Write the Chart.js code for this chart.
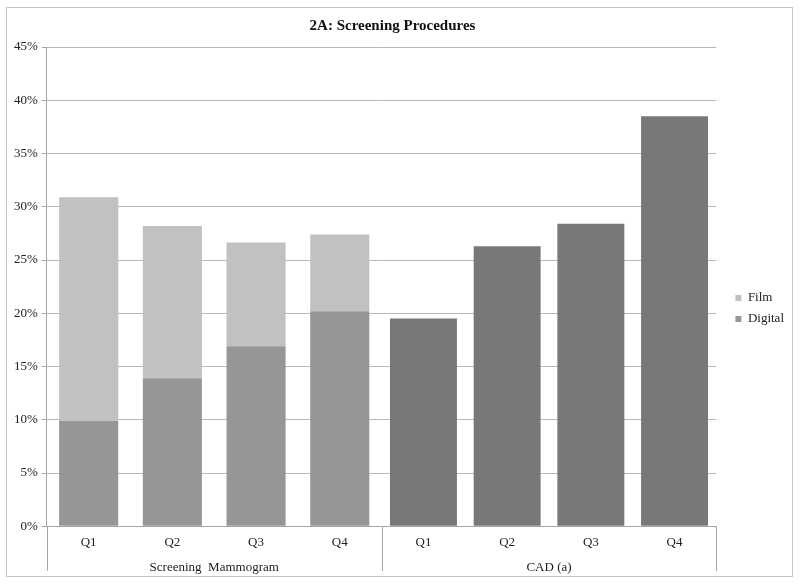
<!DOCTYPE html>
<html>
<head>
<meta charset="utf-8">
<script src="https://cdn.jsdelivr.net/npm/chart.js@4/dist/chart.umd.min.js"></script>
<style>
html,body{margin:0;padding:0;background:#fff;}
#wrap{width:800px;height:585px;position:relative;}
</style>
</head>
<body>
<div id="wrap"><canvas id="c" width="800" height="585"></canvas></div>
<script>
const categories = ['Q1','Q2','Q3','Q4','Q1','Q2','Q3','Q4'];
const groups = ['Screening  Mammogram','CAD (a)'];
const digitalMammo = [9.9, 13.9, 16.9, 20.2, null, null, null, null];
const filmMammo = [21.0, 14.3, 9.75, 7.2, null, null, null, null];
const digitalCAD = [null, null, null, null, 19.5, 26.3, 28.4, 38.5];
const yTicks = [0,5,10,15,20,25,30,35,40,45];

const serif = '"Liberation Serif", "Times New Roman", serif';

const decor = {
  id: 'decor',
  afterLayout(chart) {
    const lg = chart.legend;
    if (lg) { lg.left += 11; lg.right += 11; lg.top += 16; lg.bottom += 16; }
    const tb = chart.titleBlock;
    if (tb) { tb.left -= 4; tb.right -= 4; }
  },
  beforeDraw(chart) {
    const ctx = chart.ctx;
    ctx.save();
    ctx.strokeStyle = '#c4c4c4';
    ctx.lineWidth = 1;
    ctx.strokeRect(6.5, 7.5, 786, 569);
    ctx.restore();
  },
  afterDraw(chart) {
    const ctx = chart.ctx;
    const x = chart.scales.x;
    const g = chart.scales.x2;
    const ca = chart.chartArea;
    const mid = (x.getPixelForTick(3) + x.getPixelForTick(4)) / 2;
    const xs = [ca.left, mid, ca.right];
    ctx.save();
    ctx.strokeStyle = '#a6a6a6';
    ctx.lineWidth = 1;
    xs.forEach(px => {
      const p = Math.round(px) + 0.5;
      ctx.beginPath();
      ctx.moveTo(p, ca.bottom);
      ctx.lineTo(p, g.bottom - 4);
      ctx.stroke();
    });
    ctx.restore();
  }
};

new Chart(document.getElementById('c'), {
  type: 'bar',
  data: {
    labels: categories,
    datasets: [
      { label: 'Digital', data: digitalMammo, backgroundColor: '#969696', stack: 's', barPercentage: 0.706, categoryPercentage: 1 },
      { label: 'Film', data: filmMammo, backgroundColor: '#c1c1c1', stack: 's', barPercentage: 0.706, categoryPercentage: 1 },
      { label: 'CAD', data: digitalCAD, backgroundColor: '#787878', stack: 's', barPercentage: 0.80, categoryPercentage: 1 }
    ]
  },
  options: {
    responsive: false,
    animation: false,
    layout: { padding: { left: 10, right: 17, top: 10, bottom: 10 } },
    plugins: {
      title: {
        display: true,
        text: '2A: Screening Procedures',
        font: { family: serif, size: 15, weight: 'bold' },
        color: '#111',
        padding: { top: 7, bottom: 12 }
      },
      legend: {
        position: 'right',
        reverse: true,
        labels: {
          filter: (item) => item.text !== 'CAD',
          boxWidth: 6,
          boxHeight: 6,
          padding: 8,
          color: '#222',
          font: { family: serif, size: 13 }
        }
      },
      tooltip: { enabled: false }
    },
    scales: {
      x: {
        stacked: true,
        grid: { display: false },
        border: { display: true, color: '#a6a6a6' },
        ticks: { color: '#222', font: { family: serif, size: 13, lineHeight: 0.7 }, padding: 4 }
      },
      x2: {
        type: 'category',
        labels: groups,
        position: 'bottom',
        grid: { display: false },
        border: { display: false },
        ticks: { color: '#222', font: { family: serif, size: 13 }, padding: 0 }
      },
      y: {
        stacked: true,
        min: 0,
        max: 45,
        afterBuildTicks: (s) => { s.ticks = yTicks.map(v => ({ value: v })); },
        grid: { color: '#b8b8b8', tickLength: 5, tickColor: '#a6a6a6' },
        border: { display: true, color: '#a6a6a6' },
        ticks: { color: '#222', font: { family: serif, size: 13 }, padding: 4, callback: v => v + '%' }
      }
    }
  },
  plugins: [decor]
});
</script>
</body>
</html>
